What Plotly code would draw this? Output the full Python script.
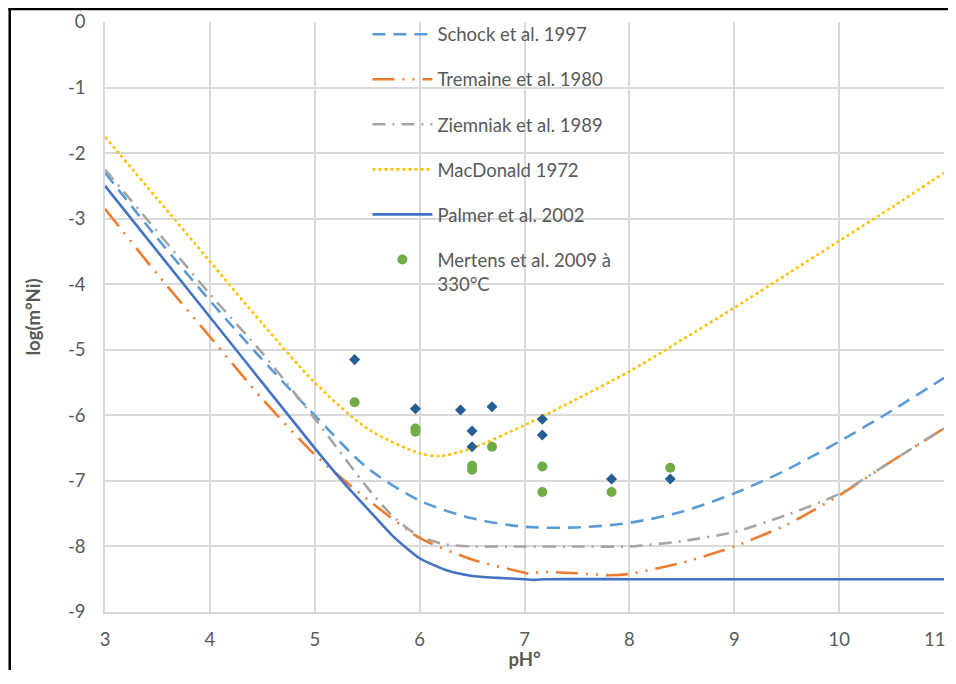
import plotly.graph_objects as go

# ---------------- data ----------------
ph_grid = [3, 3.5, 4, 4.5, 5, 5.5, 6, 6.5, 7, 7.5, 8, 8.5, 9, 9.5, 10, 10.5, 11]

schock = [-2.3, -3.3, -4.25, -5.15, -6.0, -6.8, -7.3, -7.57, -7.7, -7.71, -7.64, -7.47, -7.19, -6.83, -6.4, -5.93, -5.43]

tremaine_ph = [3, 3.5, 4, 4.5, 5, 5.5, 6, 6.5, 7, 7.05, 7.15, 7.5, 7.83, 8, 8.5, 9, 9.5, 10, 10.5, 11]
tremaine = [-2.85, -3.85, -4.8, -5.75, -6.6, -7.28, -7.87, -8.2, -8.4, -8.42, -8.39, -8.41, -8.44, -8.42, -8.25, -8.0, -7.67, -7.22, -6.7, -6.2]

ziemniak_ph = [3, 3.5, 4, 4.5, 5, 5.5, 5.75, 6, 6.25, 6.5, 7, 7.5, 8, 8.5, 9, 9.5, 10, 10.5, 11]
ziemniak = [-2.25, -3.2, -4.15, -5.05, -6.05, -7.1, -7.55, -7.85, -7.97, -8.0, -8.0, -8.0, -8.0, -7.92, -7.78, -7.52, -7.2, -6.7, -6.2]

macdonald_ph = [3, 3.5, 4, 4.5, 5, 5.5, 6, 6.2, 6.5, 7, 7.5, 8, 8.5, 9, 9.5, 10, 10.5, 11]
macdonald = [-1.75, -2.7, -3.65, -4.6, -5.5, -6.2, -6.58, -6.62, -6.5, -6.15, -5.75, -5.33, -4.85, -4.36, -3.85, -3.34, -2.83, -2.3]

palmer_ph = [3, 4, 5, 5.25, 5.5, 5.75, 6, 6.25, 6.5, 6.75, 7, 7.1, 7.2, 8, 9, 10, 11]
palmer = [-2.5, -4.5, -6.5, -6.98, -7.42, -7.85, -8.18, -8.36, -8.45, -8.48, -8.5, -8.51, -8.5, -8.5, -8.5, -8.5, -8.5]

mertens_ph = [5.38, 5.96, 5.96, 6.50, 6.50, 6.69, 7.17, 7.17, 7.83, 8.39]
mertens = [-5.80, -6.20, -6.25, -6.77, -6.83, -6.48, -6.78, -7.17, -7.17, -6.80]

diamond_ph = [5.38, 5.96, 6.39, 6.69, 6.50, 6.50, 7.17, 7.17, 7.83, 8.39]
diamond = [-5.15, -5.90, -5.92, -5.87, -6.24, -6.48, -6.06, -6.30, -6.97, -6.97]

x_ticks = [3, 4, 5, 6, 7, 8, 9, 10, 11]
y_ticks = [0, -1, -2, -3, -4, -5, -6, -7, -8, -9]
x_tick_text = [str(v) for v in x_ticks]
y_tick_text = [str(v) for v in y_ticks]

names = ["Schock et al. 1997", "Tremaine et al. 1980", "Ziemniak et al. 1989",
         "MacDonald 1972", "Palmer et al. 2002", "Mertens et al. 2009 à<br>330°C"]

# ---------------- figure ----------------
FONT = "Lato"
FS = 18.5
TXT = "#595959"
LW = 2.6

fig = go.Figure()
fig.add_trace(go.Scatter(x=ph_grid, y=schock, mode="lines", name=names[0], legendgroup="a",
                         line=dict(color="#5B9BD5", width=LW, dash="13px,8px", shape="spline", smoothing=0.8)))
fig.add_trace(go.Scatter(x=tremaine_ph, y=tremaine, mode="lines", name=names[1], legendgroup="b",
                         line=dict(color="#ED7D31", width=LW, dash="22px,8px,2px,8px,2px,8px", shape="spline", smoothing=0.6)))
fig.add_trace(go.Scatter(x=ziemniak_ph, y=ziemniak, mode="lines", name=names[2], legendgroup="c",
                         line=dict(color="#A5A5A5", width=LW, dash="13px,7px,2px,7px", shape="spline", smoothing=0.6)))
fig.add_trace(go.Scatter(x=macdonald_ph, y=macdonald, mode="lines", name=names[3], legendgroup="d",
                         line=dict(color="#FFC000", width=LW, dash="3px,3px", shape="spline", smoothing=0.8)))
fig.add_trace(go.Scatter(x=palmer_ph, y=palmer, mode="lines", name=names[4], legendgroup="e",
                         line=dict(color="#4472C4", width=LW, shape="spline", smoothing=0.6)))
fig.add_trace(go.Scatter(x=mertens_ph, y=mertens, mode="markers", name=names[5], legendgroup="f",
                         marker=dict(color="#70AD47", size=10, symbol="circle")))
fig.add_trace(go.Scatter(x=diamond_ph, y=diamond, mode="markers", name="", showlegend=False,
                         marker=dict(color="#255E91", size=8.5, symbol="diamond")))

# page has an 8px body margin: the figure starts at page pixel (8, 8)
OFF = 8
W, H = 940, 662
# plot area in page pixels: x 104.5..943.7, y 22.3..611.7
L = 104.5 - OFF
R = W - (943.7 - OFF)
T = 22.3 - OFF
B = H - (611.7 - OFF)
pw, ph = W - L - R, H - T - B

def px(xpage):
    return (xpage - OFF - L) / pw

def py(ypage):
    return (H - B - (ypage - OFF)) / ph

# the last x tick label would be cut at the page edge: draw it right-aligned instead
shown_x_text = x_tick_text[:-1] + [""]

grid = "#D9D9D9"
fig.update_layout(
    width=W, height=H,
    margin=dict(l=L, r=R, t=T, b=B, pad=0, autoexpand=False),
    paper_bgcolor="white", plot_bgcolor="white",
    font=dict(family=FONT, size=FS, color=TXT),
    legend=dict(x=px(367), y=py(16), xanchor="left", yanchor="top",
                bgcolor="rgba(0,0,0,0)", itemwidth=60, traceorder="grouped",
                tracegroupgap=18, valign="top", font=dict(size=FS, color=TXT)),
    xaxis=dict(range=[3, 11], tickvals=x_ticks, ticktext=shown_x_text, showgrid=True, gridcolor=grid, gridwidth=1.5,
               showline=True, linecolor=grid, linewidth=1.5, zeroline=False, automargin=False,
               ticks="", ticklabelstandoff=10, tickfont=dict(size=FS, color=TXT),
               title=dict(text="<b>pH°</b>", font=dict(size=FS, color=TXT), standoff=8)),
    yaxis=dict(range=[-9, 0], tickvals=y_ticks, ticktext=y_tick_text, showgrid=True, gridcolor=grid, gridwidth=1.5,
               showline=True, linecolor=grid, linewidth=1.5, zeroline=False, automargin=False,
               ticks="", ticklabelstandoff=14, tickfont=dict(size=FS, color=TXT),
               title=dict(text="<b>log(m°Ni)</b>", font=dict(size=FS, color=TXT), standoff=22)),
    showlegend=True,
)

fig.add_annotation(x=x_ticks[-1], xref="x", y=py(639), yref="paper", text=x_tick_text[-1],
                   showarrow=False, xanchor="right", yanchor="middle", xshift=3,
                   font=dict(size=FS, color=TXT))

# outer frame: black left and top edges
fig.add_shape(type="line", xref="paper", yref="paper", x0=px(9.2), x1=px(9.2), y0=py(8), y1=py(8 + H),
              line=dict(color="black", width=2.5))
fig.add_shape(type="line", xref="paper", yref="paper", x0=px(8), x1=px(8 + W), y0=py(9.2), y1=py(9.2),
              line=dict(color="black", width=2.5))

fig.write_html("out.html")
